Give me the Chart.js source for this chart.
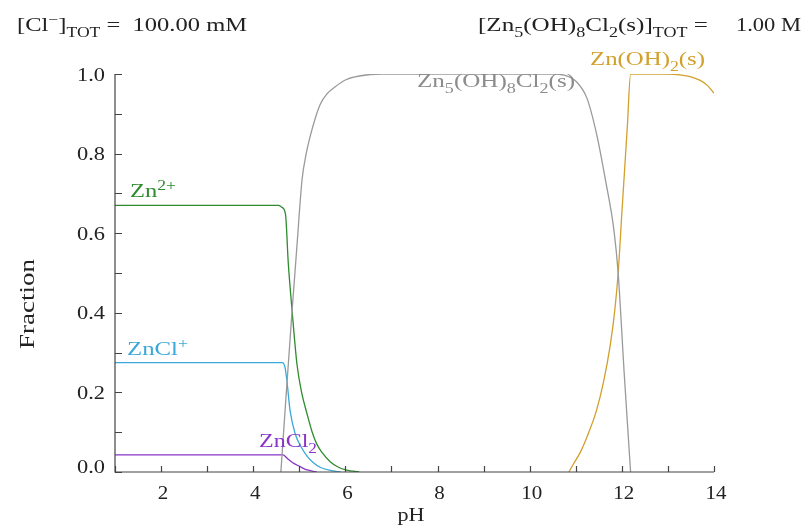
<!DOCTYPE html>
<html>
<head>
<meta charset="utf-8">
<script src="https://cdn.jsdelivr.net/npm/chart.js@4.4.1/dist/chart.umd.min.js"></script>
<style>
  body { margin: 0; background: #fff; }
  canvas { display: block; }
</style>
</head>
<body>
<canvas id="chart" width="806" height="527"></canvas>
<script>
// values (pH vs. fraction)
const pHZn = [1, 4.55, 4.62, 4.70, 4.76, 4.84, 4.95, 5.05, 5.17, 5.28, 5.38, 5.50, 5.67, 5.85, 6.03, 6.30];
const fracZn = [0.67, 0.67, 0.665, 0.648, 0.526, 0.41, 0.27, 0.20, 0.145, 0.10, 0.07, 0.048, 0.026, 0.012, 0.005, 0];

const pHZnCl = [1, 4.63, 4.69, 4.73, 4.80, 4.91, 5.05, 5.18, 5.30, 5.45, 5.67, 5.90];
const fracZnCl = [0.275, 0.275, 0.263, 0.23, 0.154, 0.096, 0.061, 0.038, 0.024, 0.012, 0.004, 0];

const pHZnCl2 = [1, 4.65, 4.73, 4.85, 5.01, 5.15, 5.38];
const fracZnCl2 = [0.043, 0.043, 0.035, 0.024, 0.014, 0.006, 0];

const pHSolid = [4.60, 4.70, 4.84, 4.95, 5.06, 5.15, 5.24, 5.35, 5.46, 5.60, 5.78, 6.00, 6.30, 6.80, 10.50, 10.75, 11.02, 11.24, 11.45, 11.65, 11.83, 11.92, 12.05, 12.19];
const fracSolid = [0, 0.17, 0.40, 0.57, 0.735, 0.80, 0.845, 0.89, 0.925, 0.95, 0.968, 0.985, 0.995, 1.0, 1.0, 0.997, 0.98, 0.94, 0.85, 0.73, 0.606, 0.50, 0.25, 0];

const pHHydroxide = [10.85, 10.95, 11.10, 11.25, 11.45, 11.60, 11.75, 11.85, 11.92, 12.00, 12.06, 12.12, 12.19, 13.00, 13.26, 13.50, 13.70, 13.85, 14.00];
const fracHydroxide = [0, 0.02, 0.05, 0.09, 0.155, 0.225, 0.32, 0.41, 0.50, 0.65, 0.76, 0.87, 1.0, 1.0, 0.998, 0.993, 0.984, 0.972, 0.952];

const xTickLabels = [2, 4, 6, 8, 10, 12, 14];
const xTickMarks = [1, 2, 3, 4, 5, 6, 7, 8, 9, 10, 11, 12, 13, 14];
const yTickLabels = [0, 0.2, 0.4, 0.6, 0.8, 1.0];
const yTickMarks = [0, 0.1, 0.2, 0.3, 0.4, 0.5, 0.6, 0.7, 0.8, 0.9, 1.0];

const FONT = '"Liberation Serif", "Times New Roman", serif';
const GREEN = '#2e8b2e', CYAN = '#3aa8d8', PURPLE = '#8a35c8', GREY = '#9a9a9a', GOLD = '#d2a02c';
const INK = '#222';

const pts = (xs, ys) => xs.map((x, i) => ({ x: x, y: ys[i] }));

const line = (label, xs, ys, color) => ({
  label: label,
  data: pts(xs, ys),
  borderColor: color,
  borderWidth: 1.3,
  pointRadius: 0,
  fill: false,
  cubicInterpolationMode: 'monotone'
});

// text with sub/superscripts, parts = [[text, 'sub'|'sup'|'']]
// the source picture's lettering is wider than the font, so a width can be given
function drawRich(ctx, x, y, parts, size, color, align, width) {
  const small = size * 0.72;
  let total = 0;
  parts.forEach(p => {
    ctx.font = (p[1] ? small : size) + 'px ' + FONT;
    total += ctx.measureText(p[0]).width;
  });
  const sx = width ? width / total : 1;
  const w = total * sx;
  const left = align === 'center' ? x - w / 2 : align === 'right' ? x - w : x;
  ctx.save();
  ctx.translate(left, y);
  ctx.scale(sx, 1);
  ctx.fillStyle = color;
  ctx.textAlign = 'left';
  ctx.textBaseline = 'alphabetic';
  let cx = 0;
  parts.forEach(p => {
    ctx.font = (p[1] ? small : size) + 'px ' + FONT;
    const dy = p[1] === 'sub' ? size * 0.3 : p[1] === 'sup' ? -size * 0.38 : 0;
    ctx.fillText(p[0], cx, dy);
    cx += ctx.measureText(p[0]).width;
  });
  ctx.restore();
}

const decorations = {
  id: 'decorations',
  afterDraw(chart) {
    const ctx = chart.ctx;
    const xs = chart.scales.x, ys = chart.scales.y;
    const a = chart.chartArea;
    ctx.save();
    // axes with inward ticks
    ctx.strokeStyle = '#444';
    ctx.lineWidth = 1.2;
    ctx.beginPath();
    ctx.moveTo(a.left, a.top);
    ctx.lineTo(a.left, a.bottom);
    ctx.lineTo(a.right, a.bottom);
    xTickMarks.forEach(v => {
      const px = Math.round(xs.getPixelForValue(v)) + 0.5;
      ctx.moveTo(px, a.bottom);
      ctx.lineTo(px, a.bottom - 6);
    });
    yTickMarks.forEach(v => {
      const py = Math.round(ys.getPixelForValue(v)) + 0.5;
      ctx.moveTo(a.left, py);
      ctx.lineTo(a.left + 7, py);
    });
    ctx.stroke();

    // tick labels
    xTickLabels.forEach(v => {
      drawRich(ctx, xs.getPixelForValue(v) + 2, a.bottom + 27, [[String(v), '']], 19, INK, 'center', String(v).length * 10.5);
    });
    yTickLabels.forEach(v => {
      const py = Math.min(ys.getPixelForValue(v), a.bottom - 6);
      drawRich(ctx, 105, py + 6.5, [[v.toFixed(1), '']], 19, INK, 'right', 28);
    });

    // header texts
    drawRich(ctx, 17, 31, [['[Cl', ''], ['\u2212', 'sup'], [']', ''], ['TOT', 'sub'], [' =  100.00 mM', '']], 19, INK, 'left', 230);
    drawRich(ctx, 478, 31, [['[Zn', ''], ['5', 'sub'], ['(OH)', ''], ['8', 'sub'], ['Cl', ''], ['2', 'sub'], ['(s)]', ''], ['TOT', 'sub'], [' =', '']], 19, INK, 'left', 230);
    drawRich(ctx, 801, 31, [['1.00 M', '']], 19, INK, 'right', 65);

    // series labels
    drawRich(ctx, 130, 197, [['Zn', ''], ['2+', 'sup']], 19, GREEN, 'left', 46);
    drawRich(ctx, 127, 355, [['ZnCl', ''], ['+', 'sup']], 19, CYAN, 'left', 61);
    drawRich(ctx, 259, 447, [['ZnCl', ''], ['2', 'sub']], 19, PURPLE, 'left', 58);
    drawRich(ctx, 417, 87, [['Zn', ''], ['5', 'sub'], ['(OH)', ''], ['8', 'sub'], ['Cl', ''], ['2', 'sub'], ['(s)', '']], 19, '#8c8c8c', 'left', 158);
    drawRich(ctx, 590, 65, [['Zn(OH)', ''], ['2', 'sub'], ['(s)', '']], 19, GOLD, 'left', 115);

    // axis titles
    drawRich(ctx, 411, 521, [['pH', '']], 19, INK, 'center', 27);
    ctx.translate(34, 304);
    ctx.rotate(-Math.PI / 2);
    drawRich(ctx, 0, 0, [['Fraction', '']], 20, INK, 'center', 90);
    ctx.restore();
  }
};

new Chart(document.getElementById('chart'), {
  type: 'line',
  data: {
    datasets: [
      line('Zn5(OH)8Cl2(s)', pHSolid, fracSolid, GREY),
      line('Zn(OH)2(s)', pHHydroxide, fracHydroxide, GOLD),
      line('Zn2+', pHZn, fracZn, GREEN),
      line('ZnCl+', pHZnCl, fracZnCl, CYAN),
      line('ZnCl2', pHZnCl2, fracZnCl2, PURPLE)
    ]
  },
  options: {
    responsive: false,
    animation: false,
    layout: { padding: { left: 0, right: 92, top: 74, bottom: 0 } },
    plugins: { legend: { display: false }, tooltip: { enabled: false } },
    scales: {
      x: {
        type: 'linear',
        min: 1,
        max: 14,
        grid: { display: false, drawTicks: false },
        border: { display: false },
        afterFit: s => { s.height = 55; },
        ticks: { display: false }
      },
      y: {
        min: 0,
        max: 1,
        grid: { display: false, drawTicks: false },
        border: { display: false },
        afterFit: s => { s.width = 115; },
        ticks: { display: false }
      }
    }
  },
  plugins: [decorations]
});
</script>
</body>
</html>
